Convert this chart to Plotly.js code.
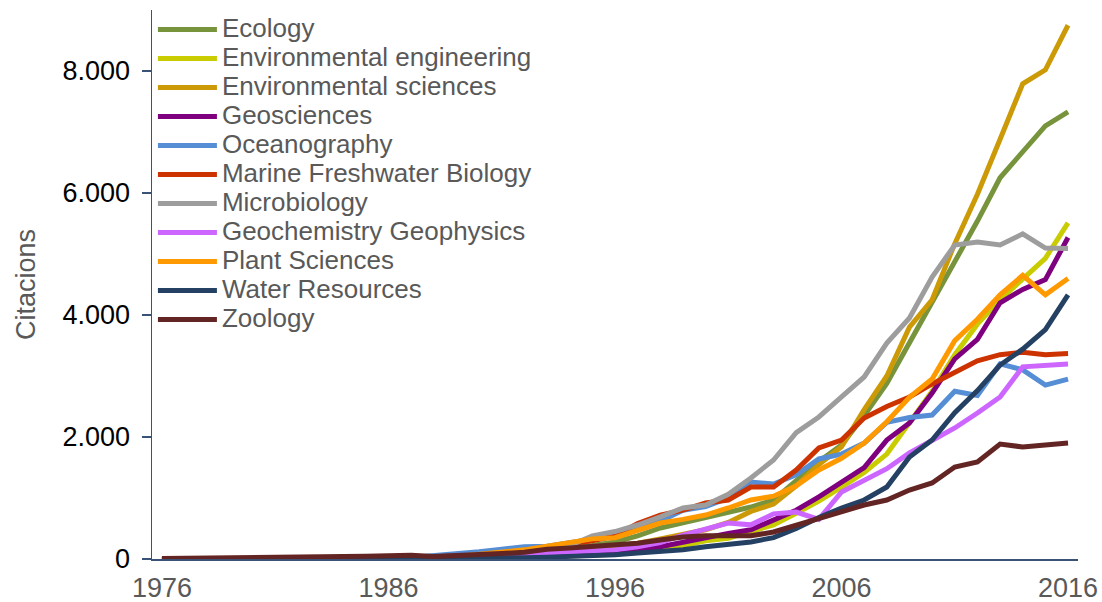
<!DOCTYPE html>
<html>
<head>
<meta charset="utf-8">
<script src="https://cdn.plot.ly/plotly-3.0.1.min.js"></script>
<style>
html,body{margin:0;padding:0;background:#fff;}
#chart{width:1102px;height:602px;}
</style>
</head>
<body>
<div id="chart"></div>
<script>
// Years 1976..2016
var years = [];
for (var yr = 1976; yr <= 2016; yr++) years.push(yr);

var seriesNames = [
  "Ecology", "Environmental engineering", "Environmental sciences", "Geosciences",
  "Oceanography", "Marine Freshwater Biology", "Microbiology", "Geochemistry Geophysics",
  "Plant Sciences", "Water Resources", "Zoology"
];

var ecology = [0,0,0,5,5,5,5,10,10,10, 15,15,20,30,40,60,90,130,180,220,
  279,380,508,590,672,760,852,967,1295,1600,1870,2350,2880,3540,4210,4880,5540,6250,6670,7100,7330];
var envEngineering = [0,0,0,0,0,0,0,0,5,5, 5,10,10,15,20,25,30,40,50,60,
  80,110,150,220,300,340,440,560,750,950,1180,1420,1720,2250,2750,3350,3850,4250,4600,4930,5510];
var envSciences = [0,0,0,0,5,5,5,5,10,10, 10,15,15,20,30,40,60,90,130,170,
  200,260,330,400,480,600,780,900,1200,1550,1840,2450,3000,3800,4250,5170,5980,6880,7790,8020,8750];
var geosciences = [0,0,0,0,0,0,5,5,5,5, 10,10,10,15,20,30,40,55,75,95,
  120,150,200,280,350,420,480,640,800,1020,1250,1500,1950,2230,2720,3280,3600,4200,4420,4580,5270];
var oceanography = [0,0,0,5,5,5,10,10,10,15, 20,25,50,80,120,160,200,210,270,320,
  380,480,620,800,860,1000,1262,1230,1380,1640,1720,1900,2240,2320,2360,2750,2680,3200,3100,2850,2950];
var marineFreshwater = [0,0,0,5,5,5,10,10,10,15, 20,25,30,40,60,80,110,160,250,300,
  380,580,720,800,918,967,1180,1180,1459,1820,1951,2311,2500,2656,2870,3050,3250,3350,3390,3350,3370];
var microbiology = [0,0,0,5,5,5,10,10,10,15, 20,25,30,40,50,70,100,150,220,380,
  450,557,690,836,885,1060,1328,1623,2070,2328,2656,2984,3541,3951,4623,5148,5197,5148,5330,5098,5090];
var geochemistry = [0,0,0,5,5,5,10,10,10,15, 20,25,30,40,50,60,80,100,110,130,
  150,200,270,390,480,590,560,740,770,650,1100,1295,1480,1738,1951,2148,2393,2656,3150,3180,3197];
var plantSciences = [0,0,0,5,5,5,10,10,10,15, 20,25,30,40,80,110,150,210,280,330,
  350,480,590,650,721,836,967,1030,1200,1460,1650,1900,2250,2650,2950,3580,3930,4330,4650,4330,4600];
var waterResources = [0,0,0,0,0,0,0,0,0,0, 0,0,5,5,10,15,20,30,40,55,
  70,100,120,150,200,240,280,350,500,680,836,967,1180,1672,1951,2400,2760,3180,3440,3760,4328];
var zoology = [10,12,15,20,25,28,30,30,35,45, 55,60,40,50,70,90,110,160,180,200,
  230,260,311,360,380,370,380,443,557,672,770,885,967,1131,1246,1508,1590,1885,1836,1869,1902];

var seriesValues = [ecology, envEngineering, envSciences, geosciences, oceanography,
  marineFreshwater, microbiology, geochemistry, plantSciences, waterResources, zoology];

var seriesColors = ["#77933C", "#C8CC00", "#CC9A06", "#7F007F", "#558ED5",
  "#CC3300", "#9D9D9D", "#CC66FF", "#FF9900", "#244062", "#632523"];

var yTickVals = [0, 2000, 4000, 6000, 8000];
var yTickText = ["0", "2.000", "4.000", "6.000", "8.000"];
var xTickVals = [1976, 1986, 1996, 2006, 2016];
var yAxisTitle = "Citacions";

var traces = seriesNames.map(function (nm, i) {
  return {
    x: years,
    y: seriesValues[i],
    type: "scatter",
    mode: "lines",
    name: '<span style="font-size:26px">' + nm + '</span>',
    line: {color: seriesColors[i], width: 5, shape: "linear"},
    hoverinfo: "skip"
  };
});

var axisColor = "#3A5275";
var layout = {
  width: 1102, height: 602,
  margin: {l: 152, r: 24, t: 10, b: 43, pad: 0},
  paper_bgcolor: "#ffffff",
  plot_bgcolor: "#ffffff",
  font: {family: "Liberation Sans, Arial, sans-serif", color: "#595959"},
  showlegend: true,
  legend: {
    x: 0.001, xanchor: "left", y: 1.0, yanchor: "top",
    bgcolor: "rgba(0,0,0,0)",
    font: {size: 20, color: "#595959", family: "Liberation Sans, Arial, sans-serif"},
    itemwidth: 59,
    tracegroupgap: 0
  },
  xaxis: {
    range: [1975.56, 2016.44],
    tickmode: "array", tickvals: xTickVals,
    showgrid: false, zeroline: false,
    showline: true, linecolor: axisColor, linewidth: 1.5,
    ticks: "", ticklabelstandoff: 4,
    tickfont: {size: 27, color: "#595959"}
  },
  yaxis: {
    range: [0, 9000],
    tickmode: "array", tickvals: yTickVals, ticktext: yTickText,
    showgrid: false, zeroline: false,
    showline: true, linecolor: axisColor, linewidth: 1.5,
    ticks: "outside", ticklen: 9, tickwidth: 1.5, tickcolor: axisColor,
    ticklabelstandoff: 6,
    tickfont: {size: 27, color: "#000000"},
    title: {text: yAxisTitle, font: {size: 27, color: "#595959"}, standoff: 19}
  }
};

Plotly.newPlot("chart", traces, layout, {displayModeBar: false, staticPlot: true});
</script>
</body>
</html>
